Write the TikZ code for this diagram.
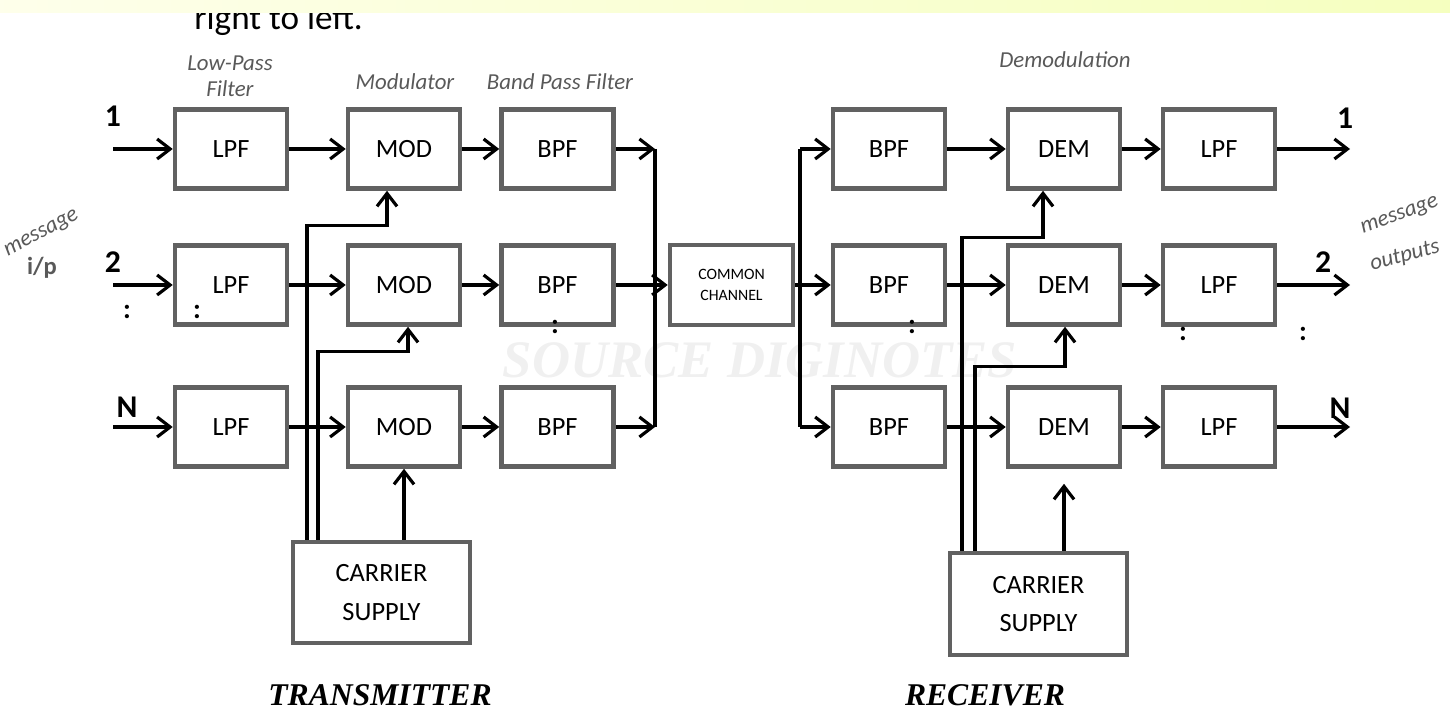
\documentclass[tikz,border=0pt]{standalone}
\usepackage{fontspec}
\setmainfont{Carlito}
\newfontfamily\titlefont{Liberation Serif}
\usepackage{xcolor}
\usepackage{tikz}
\usetikzlibrary{arrows.meta,positioning}

\definecolor{boxgray}{gray}{0.38}
\definecolor{penink}{gray}{0.35}

\begin{document}
\begin{tikzpicture}[
    x=1cm, y=1cm,
    every node/.style={font=\fontsize{7.5}{9}\selectfont},
    blk/.style={draw=boxgray, line width=1.3pt, fill=white,
        minimum width=11.2mm, minimum height=7.9mm, inner sep=0pt},
    supply/.style={blk, minimum width=17.7mm, minimum height=10.1mm,
        align=center, font=\fontsize{7.5}{11}\selectfont},
    sig/.style={-{Straight Barb[length=1.3mm,width=2mm]}, line width=0.9pt},
    wire/.style={line width=0.9pt},
    hand/.style={text=penink, font=\itshape\fontsize{6.5}{7.5}\selectfont,
        align=center, inner sep=0.5pt},
    chan/.style={font=\bfseries\fontsize{9}{10}\selectfont},
    dotsym/.style={font=\bfseries\fontsize{8}{8}\selectfont, inner sep=0pt},
    side/.style={font=\titlefont\bfseries\itshape\fontsize{9}{10}\selectfont}
]
\useasboundingbox (0,0) rectangle (14.5,-7.14);

% Heading left over from the page
\node[font=\fontsize{10}{11}\selectfont, anchor=west] (hdr) at (1.82,-0.2)
    {right to left.};
\shade[left color=green!6!yellow!8, middle color=orange!25!yellow!35,
    right color=green!15!yellow!25] (0,0) rectangle (14.5,-0.13);

% Watermark
\node[text=black!6, font=\titlefont\bfseries\itshape\fontsize{15}{16}\selectfont]
    (wm) at (7.6,-3.6) {SOURCE DIGINOTES};

% Transmitter blocks
\node[blk] (lpfa) at (2.31,-1.49) {LPF};
\node[blk] (lpfb) at (2.31,-2.85) {LPF};
\node[blk] (lpfc) at (2.31,-4.27) {LPF};
\node[blk] (moda) at (4.04,-1.49) {MOD};
\node[blk] (modb) at (4.04,-2.85) {MOD};
\node[blk] (modc) at (4.04,-4.27) {MOD};
\node[blk] (bpfa) at (5.575,-1.49) {BPF};
\node[blk] (bpfb) at (5.575,-2.85) {BPF};
\node[blk] (bpfc) at (5.575,-4.27) {BPF};
\node[supply] (ctx) at (3.815,-5.925) {CARRIER\\SUPPLY};

% Common channel
\node[blk, minimum width=12.3mm, minimum height=8mm, align=center,
    font=\fontsize{4.5}{6}\selectfont] (cc) at (7.315,-2.85)
    {COMMON\\CHANNEL};

% Receiver blocks
\node[blk] (rbpfa) at (8.89,-1.49) {BPF};
\node[blk] (rbpfb) at (8.89,-2.85) {BPF};
\node[blk] (rbpfc) at (8.89,-4.27) {BPF};
\node[blk] (dema) at (10.64,-1.49) {DEM};
\node[blk] (demb) at (10.64,-2.85) {DEM};
\node[blk] (demc) at (10.64,-4.27) {DEM};
\node[blk] (rlpfa) at (12.19,-1.49) {LPF};
\node[blk] (rlpfb) at (12.19,-2.85) {LPF};
\node[blk] (rlpfc) at (12.19,-4.27) {LPF};
\node[supply, minimum height=10.2mm] (crx) at (10.385,-6.04)
    {CARRIER\\SUPPLY};

% Free ends and bus points
\coordinate (ina) at (1.13,-1.49);
\coordinate (inb) at (1.13,-2.85);
\coordinate (inc) at (1.13,-4.27);
\coordinate (outa) at (13.5,-1.49);
\coordinate (outb) at (13.5,-2.85);
\coordinate (outc) at (13.5,-4.27);
\coordinate (txa) at (6.55,-1.49);
\coordinate (txc) at (6.55,-4.27);
\coordinate (rxa) at (8.00,-1.49);
\coordinate (rxb) at (8.00,-2.85);
\coordinate (rxc) at (8.00,-4.27);

% Signal paths
\foreach \r in {a,b,c} {
    \draw[sig] (in\r) -- (lpf\r);
    \draw[sig] (lpf\r) -- (mod\r);
    \draw[sig] (mod\r) -- (bpf\r);
    \draw[sig] (rbpf\r) -- (dem\r);
    \draw[sig] (dem\r) -- (rlpf\r);
    \draw[sig] (rlpf\r) -- (out\r);
}
\draw[sig] (bpfa) -- (txa);
\draw[sig] (bpfc) -- (txc);
\draw[wire] (txa) -- (txc);
\draw[sig] (bpfb) -- (cc);
\draw[wire] (cc) -- (rxb);
\draw[wire] (rxa) -- (rxc);
\draw[sig] (rxa) -- (rbpfa);
\draw[sig] (rxb) -- (rbpfb);
\draw[sig] (rxc) -- (rbpfc);

% Carrier feeds, transmitter
\draw[sig] ([xshift=-7.45mm]ctx.north)
    |- ([xshift=-1.7mm,yshift=-3.5mm]moda.south)
    -- ([xshift=-1.7mm]moda.south);
\draw[sig] ([xshift=-6.35mm]ctx.north)
    |- ([xshift=0.4mm,yshift=-2.5mm]modb.south)
    -- ([xshift=0.4mm]modb.south);
\draw[sig] (modc.south |- ctx.north) -- (modc.south);

% Carrier feeds, receiver
\draw[sig] ([xshift=-7.65mm]crx.north)
    |- ([xshift=-2.1mm,yshift=-4.7mm]dema.south)
    -- ([xshift=-2.1mm]dema.south);
\draw[sig] ([xshift=-6.35mm]crx.north)
    |- ([xshift=0.1mm,yshift=-4mm]demb.south)
    -- ([xshift=0.1mm]demb.south);
\draw[sig] (demc.south |- crx.north) -- ([yshift=-1.5mm]demc.south);

% Channel numbers
\node[chan] (na) at (1.13,-1.16) {1};
\node[chan] (nb) at (1.13,-2.62) {2};
\node[chan] (nc) at (1.27,-4.07) {N};
\node[chan] (ma) at (13.45,-1.18) {1};
\node[chan] (mb) at (13.23,-2.62) {2};
\node[chan] (mc) at (13.4,-4.08) {N};

% Dots for the rows left out
\node[dotsym] (da) at (1.27,-3.12) {:};
\node[dotsym] (db) at (1.97,-3.12) {:};
\node[dotsym] (dc) at (5.55,-3.27) {:};
\node[dotsym] (dd) at (9.12,-3.27) {:};
\node[dotsym] (de) at (11.83,-3.34) {:};
\node[dotsym] (df) at (13.03,-3.34) {:};

% Handwritten notes
\node[hand] (nlpf) at (2.3,-0.76) {Low-Pass\\Filter};
\node[hand] (nmod) at (4.05,-0.82) {Modulator};
\node[hand] (nbpf) at (5.6,-0.82) {Band Pass Filter};
\node[hand] (ndem) at (10.65,-0.6) {Demodulation};
\node[hand, rotate=28] (nin) at (0.42,-2.34) {message};
\node[hand, font=\bfseries\fontsize{7}{8}\selectfont] (nip) at (0.42,-2.68) {i/p};
\node[hand, rotate=20] (nout) at (14.0,-2.16) {message};
\node[hand, rotate=15] (nouts) at (14.05,-2.56) {outputs};

% Section titles
\node[side] (ttx) at (3.8,-6.95) {TRANSMITTER};
\node[side] (trx) at (9.85,-6.95) {RECEIVER};

\end{tikzpicture}
\end{document}
